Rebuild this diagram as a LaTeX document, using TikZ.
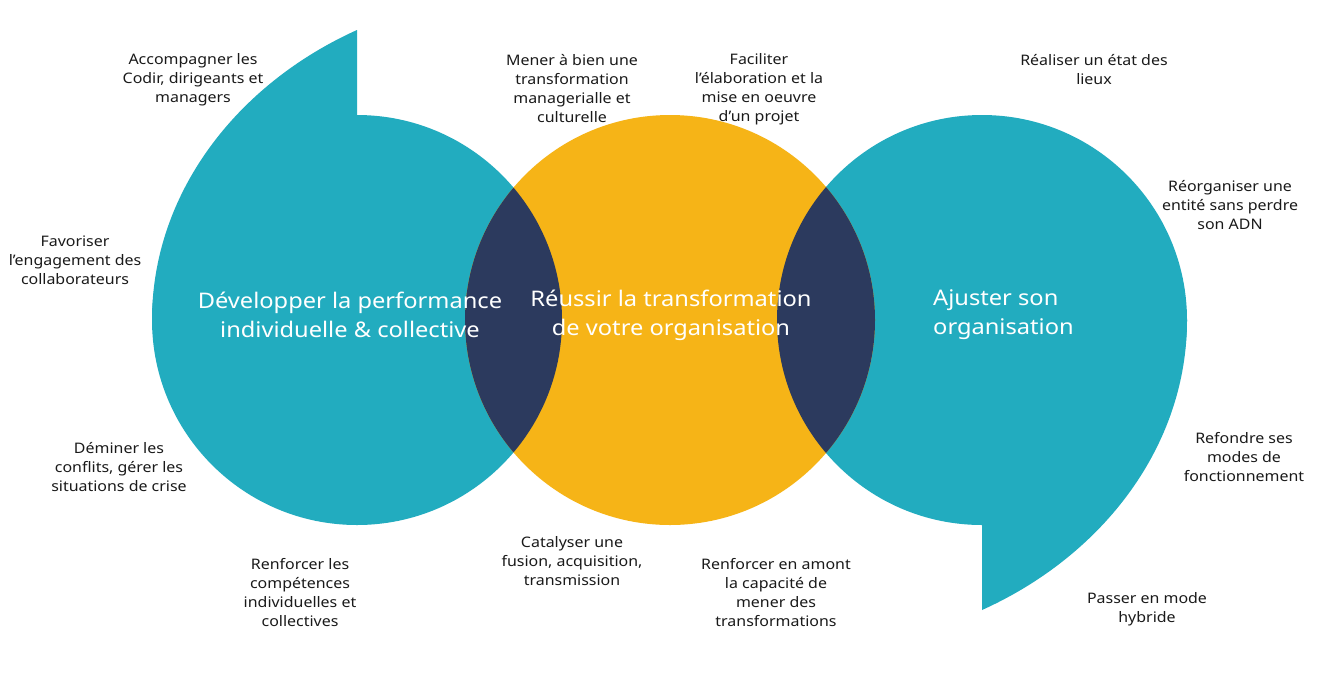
\documentclass[tikz,border=0pt]{standalone}
\usepackage{fontspec}
\setmainfont{Noto Sans}[FakeStretch=1.1]
\definecolor{tealc}{HTML}{22ACBF}
\definecolor{orangec}{HTML}{F6B417}
\definecolor{navyc}{HTML}{2C3A5E}
\definecolor{textc}{HTML}{1A1A1A}
\begin{document}
\begin{tikzpicture}[x=1pt,y=-1pt,
  small/.style={font=\fontsize{14.5}{19}\selectfont, align=center, text=textc, inner sep=0pt},
  big/.style={font=\fontsize{21.5}{29}\selectfont, text=white, inner sep=0pt}]
\useasboundingbox (0,0) rectangle (1319,689);
\fill[white] (0,0) rectangle (1319,689);
% left bubble
\fill[tealc] (357,320) circle (205pt);
\fill[tealc] (357,30) .. controls (235,85) and (152,195) .. (152,320) -- (357,320) -- cycle;
% right bubble
\fill[tealc] (982,320) circle (205pt);
\fill[tealc] (982,610) .. controls (1104,555) and (1187,445) .. (1187,320) -- (982,320) -- cycle;
% middle
\fill[orangec] (670,320) circle (205pt);
\begin{scope}
  \clip (357,320) circle (205pt);
  \fill[navyc] (670,320) circle (205pt);
\end{scope}
\begin{scope}
  \clip (982,320) circle (205pt);
  \fill[navyc] (670,320) circle (205pt);
\end{scope}
% big texts
\node[big, align=center] (tl) at (350,315) {Développer la performance\\individuelle \& collective};
\node[big, align=center] (tm) at (671,315) {Réussir la transformation\\de votre organisation};
\node[big, align=left, anchor=west] (tr) at (933,315) {Ajuster son\\organisation};
% small labels
\node[small] (a1) at (193,80) {Accompagner les\\Codir, dirigeants et\\managers};
\node[small] (a2) at (75,260) {Favoriser\\l’engagement des\\collaborateurs};
\node[small] (a3) at (119,467) {Déminer les\\conflits, gérer les\\situations de crise};
\node[small] (a4) at (300,593) {Renforcer les\\compétences\\individuelles et\\collectives};
\node[small] (b1) at (572,89) {Mener à bien une\\transformation\\managerialle et\\culturelle};
\node[small] (b2) at (759,89) {Faciliter\\l’élaboration et la\\mise en oeuvre\\d’un projet};
\node[small] (b3) at (572,561) {Catalyser une\\fusion, acquisition,\\transmission};
\node[small] (b4) at (776,593) {Renforcer en amont\\la capacité de\\mener des\\transformations};
\node[small] (c1) at (1094,70) {Réaliser un état des\\lieux};
\node[small] (c2) at (1230,205) {Réorganiser une\\entité sans perdre\\son ADN};
\node[small] (c3) at (1244,457) {Refondre ses\\modes de\\fonctionnement};
\node[small] (c4) at (1147,609) {Passer en mode\\hybride};
\end{tikzpicture}
\end{document}
